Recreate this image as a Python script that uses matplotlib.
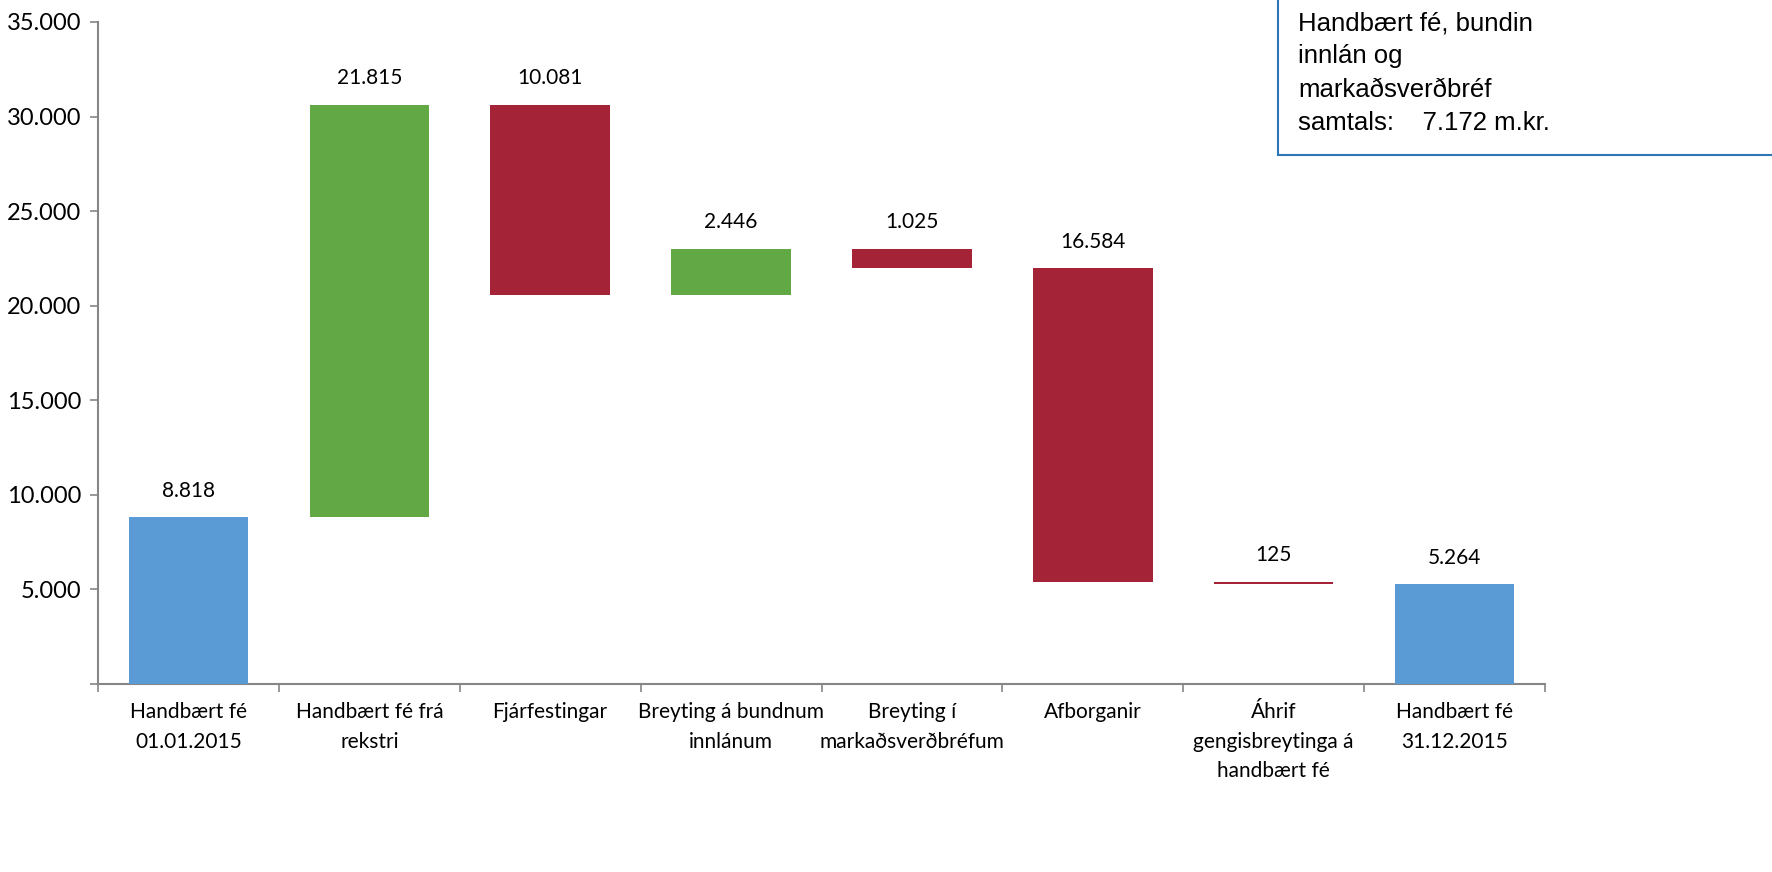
import matplotlib
matplotlib.use("Agg")
import matplotlib.pyplot as plt
import matplotlib.ticker as mticker
from matplotlib.patches import Rectangle
import numpy as np

# ── Data ──────────────────────────────────────────────────────────────────────
categories = [
    "Handbært fé\n01.01.2015",
    "Handbært fé frá\nrekstri",
    "Fjárfestingar",
    "Breyting á bundnum\ninnlánum",
    "Breyting í\nmarkaðsverðbréfum",
    "Afborganir",
    "Áhrif\ngengisbreytinga á\nhandbært fé",
    "Handbært fé\n31.12.2015",
]
changes = [8818, 21815, -10081, 2446, -1025, -16584, -125, 5264]
kinds   = ["total", "delta", "delta", "delta", "delta", "delta", "delta", "total"]
box_text = "Handbært fé, bundin\ninnlán og\nmarkaðsverðbréf\nsamtals:    7.172 m.kr."

BLUE  = "#5b9bd5"
GREEN = "#62a844"
RED   = "#a52336"
GREY  = "#868686"

# ── Waterfall geometry ───────────────────────────────────────────────────────
bottoms, heights, colors = [], [], []
level = 0
for v, k in zip(changes, kinds):
    if k == "total":
        bottoms.append(0); heights.append(v); colors.append(BLUE)
        level = v
    else:
        if v >= 0:
            bottoms.append(level); heights.append(v); colors.append(GREEN)
        else:
            bottoms.append(level + v); heights.append(-v); colors.append(RED)
        level += v

def fmt_num(v):
    return f"{int(abs(v)):,}".replace(",", ".")

# ── Figure ───────────────────────────────────────────────────────────────────
plt.rcParams["font.family"] = ["Lato", "DejaVu Sans"]
fig = plt.figure(figsize=(17.72, 8.72), dpi=100)
ax = fig.add_axes([98 / 1772, 188 / 872, 1447 / 1772, 662 / 872])

x = np.arange(len(categories))
ax.bar(x, heights, bottom=bottoms, width=0.66, color=colors, zorder=3)

for xi, b, h, v in zip(x, bottoms, heights, changes):
    ax.annotate(fmt_num(v), (xi, b + h), xytext=(0, 12), textcoords="offset points",
                ha="center", va="bottom", fontsize=15, color="#000000")

ax.set_xlim(-0.5, len(categories) - 0.5)
ax.set_ylim(0, 35000)
ax.yaxis.set_major_locator(mticker.MultipleLocator(5000))
ax.yaxis.set_major_formatter(mticker.FuncFormatter(
    lambda v, p: "" if v == 0 else fmt_num(v)))

ax.set_xticks(x)
ax.set_xticklabels(categories, fontsize=15, linespacing=1.6)
ax.set_xticks(np.arange(-0.5, len(categories)), minor=True)
ax.tick_params(axis="x", which="major", length=0, pad=13)
ax.tick_params(axis="x", which="minor", length=6, width=1.2, color=GREY, direction="out")
ax.tick_params(axis="y", length=6, width=1.2, color=GREY, labelsize=17, pad=6)

for side in ("top", "right"):
    ax.spines[side].set_visible(False)
for side in ("left", "bottom"):
    ax.spines[side].set_color(GREY)
    ax.spines[side].set_linewidth(1.5)

# ── Info box ─────────────────────────────────────────────────────────────────
fig.patches.append(Rectangle((1278 / 1772, 717 / 872), 0.3, 0.3,
                             transform=fig.transFigure, facecolor="white",
                             edgecolor="#2e75b6", linewidth=1.5, zorder=5))
fig.text(1298 / 1772, 1 - 11 / 872, box_text, ha="left", va="top",
         fontsize=18.5, family=["Liberation Sans", "DejaVu Sans"],
         linespacing=1.5, zorder=6)

fig.savefig("out.png", dpi=100)
